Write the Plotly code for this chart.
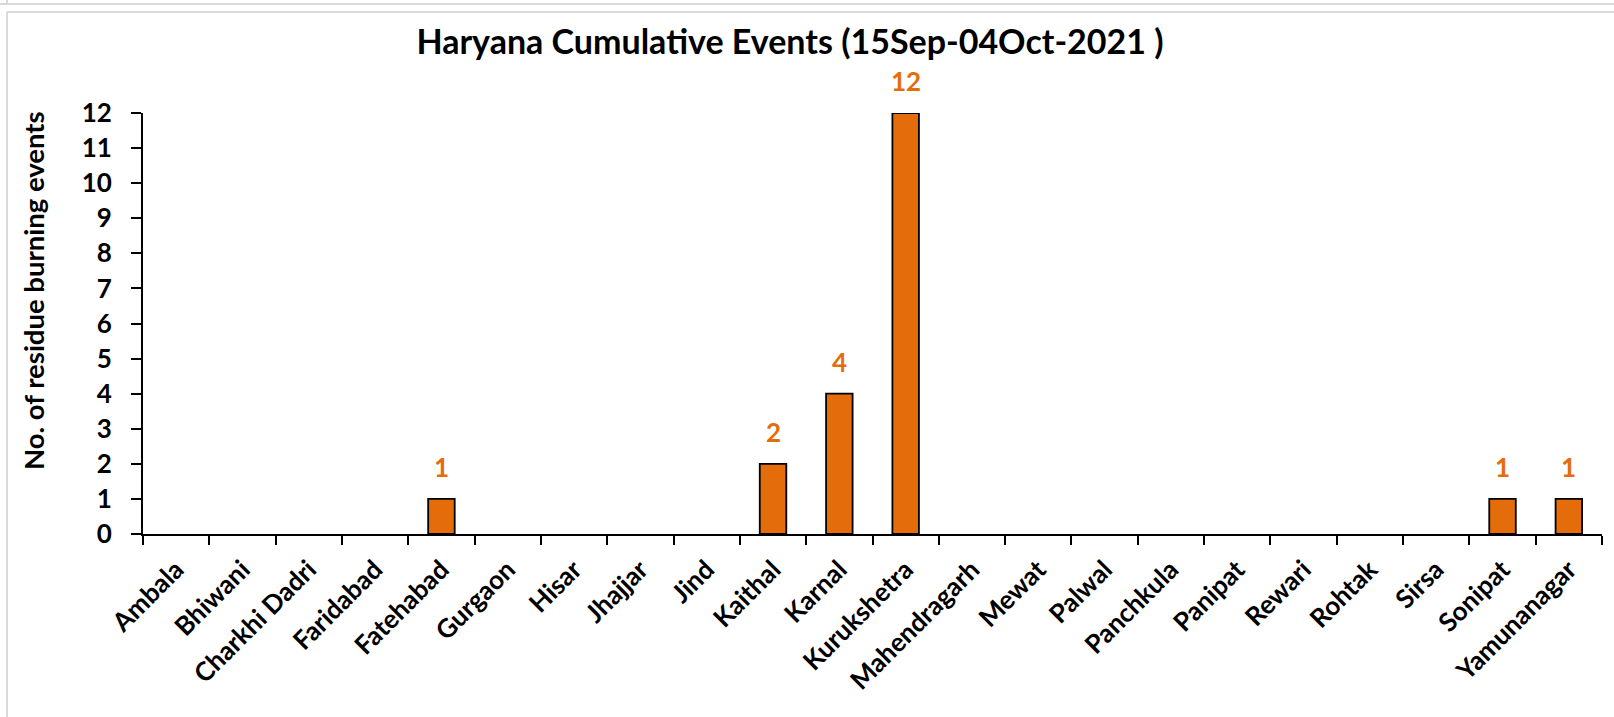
import plotly.graph_objects as go

districts = ["Ambala", "Bhiwani", "Charkhi Dadri", "Faridabad", "Fatehabad", "Gurgaon",
             "Hisar", "Jhajjar", "Jind", "Kaithal", "Karnal", "Kurukshetra", "Mahendragarh",
             "Mewat", "Palwal", "Panchkula", "Panipat", "Rewari", "Rohtak", "Sirsa",
             "Sonipat", "Yamunanagar"]
events = [0, 0, 0, 0, 1, 0, 0, 0, 0, 2, 4, 12, 0, 0, 0, 0, 0, 0, 0, 0, 1, 1]
y_ticks = list(range(0, 13))
title_text = "Haryana Cumulative Events (15Sep-04Oct-2021 )"
y_title = "No. of residue burning events"

ORANGE = "#E46C0A"
FONT = "Lato"

W, H = 1614, 717
L, R, T, B = 143, 1602, 113, 534
pw = R - L
ph = B - T

def px(x):
    return (x - L) / pw

def py(y):
    return (B - y) / ph

fig = go.Figure()
fig.add_trace(go.Bar(
    x=districts, y=events,
    marker=dict(color=ORANGE,
                line=dict(color="black", width=[1.8 if v > 0 else 0 for v in events])),
    width=0.4,
    showlegend=False,
))

annotations = []
for d, v in zip(districts, events):
    if v > 0:
        annotations.append(dict(
            x=d, y=v, xref="x", yref="y", text=f"<b>{v}</b>", showarrow=False,
            yanchor="bottom", yshift=14, font=dict(family=FONT, size=26, color=ORANGE)))

annotations.append(dict(
    x=px(33), y=py(291), xref="paper", yref="paper",
    text=f"<b>{y_title}</b>", textangle=-90, showarrow=False,
    xanchor="center", yanchor="middle", font=dict(family=FONT, size=27.5, color="black")))

shapes = [
    dict(type="line", xref="paper", yref="paper",
         x0=px(7), x1=px(W + 5), y0=py(12), y1=py(12),
         line=dict(color="#D9D9D9", width=2)),
    dict(type="line", xref="paper", yref="paper",
         x0=px(7), x1=px(7), y0=py(12), y1=py(H + 5),
         line=dict(color="#D9D9D9", width=2)),
    dict(type="line", xref="paper", yref="paper",
         x0=px(0), x1=px(W + 5), y0=py(4), y1=py(4),
         line=dict(color="#D9D9D9", width=2)),
    dict(type="line", xref="paper", yref="paper",
         x0=px(7), x1=px(7), y0=py(4), y1=py(-5),
         line=dict(color="#D9D9D9", width=2)),
]

fig.update_layout(
    width=W, height=H,
    margin=dict(l=L, r=W - R, t=T, b=H - B, autoexpand=False),
    paper_bgcolor="white", plot_bgcolor="white",
    title=dict(text=f"<b>{title_text}</b>", x=790 / W, xref="container", xanchor="center",
               y=1 - 42 / H, yref="container", yanchor="middle",
               font=dict(family=FONT, size=34, color="black")),
    annotations=annotations,
    shapes=shapes,
    bargap=0.6,
)
fig.update_xaxes(
    type="category", tickangle=-45, tickson="boundaries",
    ticks="outside", ticklen=9, tickwidth=2, tickcolor="black",
    showline=True, linecolor="black", linewidth=2,
    showgrid=False, zeroline=False,
    tickfont=dict(family=FONT, size=26, color="black"),
    tickprefix="<b>", ticksuffix="</b>",
    ticklabelstandoff=8,
)
fig.update_yaxes(
    range=[0, 12], tickvals=y_ticks, ticktext=[f"<b>{t}</b>" for t in y_ticks],
    ticks="outside", ticklen=10, tickwidth=2, tickcolor="black",
    showline=True, linecolor="black", linewidth=2,
    showgrid=False, zeroline=False,
    tickfont=dict(family=FONT, size=26, color="black"),
    ticklabelstandoff=14,
)

fig.write_html("out.html", config={"displayModeBar": False},
               post_script="document.body.style.margin='0';document.body.style.overflow='hidden';")
